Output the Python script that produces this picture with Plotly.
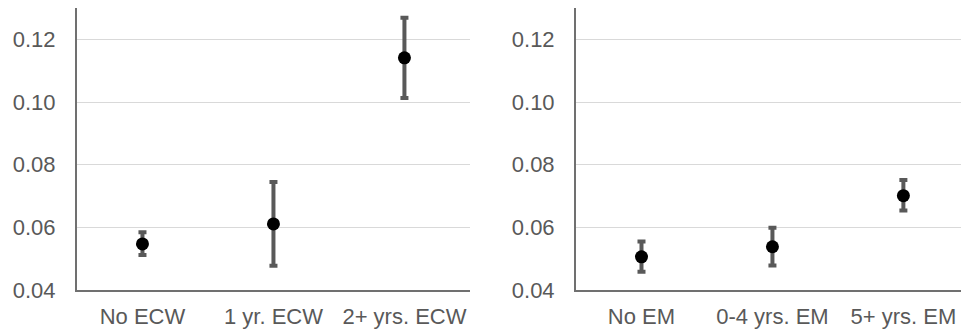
import plotly.graph_objects as go

# Left panel: ECW
ecw_cats = ["No ECW", "1 yr. ECW", "2+ yrs. ECW"]
ecw_vals = [0.0547, 0.0611, 0.1141]
ecw_err_plus = [0.0037, 0.0134, 0.0128]
ecw_err_minus = [0.0035, 0.0134, 0.0128]

# Right panel: EM
em_cats = ["No EM", "0-4 yrs. EM", "5+ yrs. EM"]
em_vals = [0.0506, 0.0538, 0.0701]
em_err_plus = [0.0049, 0.0061, 0.0050]
em_err_minus = [0.0048, 0.0060, 0.0047]

y_ticks = [0.04, 0.06, 0.08, 0.10, 0.12]
y_ticktext = ["0.04", "0.06", "0.08", "0.10", "0.12"]

ERR_COLOR = "#595959"
TEXT_COLOR = "#595959"
AXIS_COLOR = "#707070"
FONT = "Liberation Sans, Arial, sans-serif"
FSIZE = 22

fig = go.Figure()

def add_panel(cats, vals, ep, em, xa, ya):
    fig.add_trace(go.Scatter(
        x=cats, y=vals, mode="markers",
        marker=dict(color="black", size=13),
        error_y=dict(type="data", symmetric=False, array=ep, arrayminus=em,
                     color=ERR_COLOR, thickness=4, width=4),
        xaxis=xa, yaxis=ya, showlegend=False,
    ))

add_panel(ecw_cats, ecw_vals, ecw_err_plus, ecw_err_minus, "x", "y")
add_panel(em_cats, em_vals, em_err_plus, em_err_minus, "x2", "y2")

yaxis_common = dict(
    range=[0.04, 0.13], tickvals=y_ticks, ticktext=y_ticktext,
    showgrid=True, gridcolor="#d9d9d9", gridwidth=1,
    showline=True, linecolor=AXIS_COLOR, linewidth=2,
    zeroline=False, ticks="", ticklabelstandoff=15,
    tickfont=dict(size=FSIZE, color=TEXT_COLOR, family=FONT),
)
xaxis_common = dict(
    type="category", showgrid=False, zeroline=False,
    showline=True, linecolor=AXIS_COLOR, linewidth=2,
    ticks="", ticklabelstandoff=6,
    tickfont=dict(size=FSIZE, color=TEXT_COLOR, family=FONT),
)

fig.update_layout(
    width=961, height=335,
    margin=dict(l=0, r=0, t=8, b=45),
    paper_bgcolor="white", plot_bgcolor="white",
    xaxis=dict(domain=[0.0801, 0.489], range=[-0.5, 2.5], anchor="y", **xaxis_common),
    yaxis=dict(domain=[0, 1], anchor="x", **yaxis_common),
    xaxis2=dict(domain=[0.5994, 1.0], range=[-0.5, 2.44], anchor="y2", **xaxis_common),
    yaxis2=dict(domain=[0, 1], anchor="x2", **yaxis_common),
    font=dict(family=FONT, color=TEXT_COLOR),
)

fig.write_html("out.html")
